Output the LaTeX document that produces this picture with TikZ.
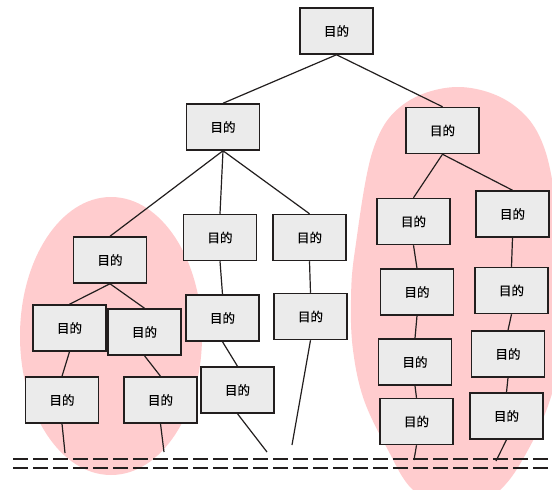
\documentclass[tikz,border=0pt]{standalone}
\usepackage{fontspec}
\newfontfamily\cjkfont[FakeBold=0.6]{Noto Sans CJK SC}
\definecolor{blobpink}{RGB}{255,204,206}
\definecolor{boxgray}{RGB}{235,235,235}
\definecolor{edgeink}{RGB}{34,30,30}
\tikzset{
  goalbox/.style={draw=edgeink, line width=1.5pt, fill=boxgray,
    minimum width=73pt, minimum height=46pt, inner sep=0pt,
    font=\cjkfont\fontsize{12.5}{13}\selectfont},
  link/.style={draw=edgeink, line width=1.2pt},
  floor/.style={draw=edgeink, line width=2.1pt, dash pattern=on 15pt off 5pt}
}
\begin{document}
\begin{tikzpicture}[x=1pt, y=-1pt]
\useasboundingbox (0,0) rectangle (552,490);
\clip (0,0) rectangle (552,490);
\fill[white] (0,0) rectangle (552,490);

% shaded groups
\fill[blobpink] (111,336) ellipse [x radius=91, y radius=139];
\fill[blobpink] plot[smooth cycle, tension=0.6] coordinates {
  (458,87) (512,104) (545,150) (562,250) (565,300) (561,350)
  (550,400) (528,450) (500,490) (457,515) (413,490) (388,450)
  (364,400) (353,350) (351,300) (355,250) (373,150) (404,104)};

% goal boxes
\node[goalbox] (top) at (336.5,31) {目的};
\node[goalbox] (a) at (223,127) {目的};
\node[goalbox] (b) at (442.5,130.5) {目的};

\node[goalbox] (l1) at (110,260) {目的};
\node[goalbox] (m1) at (220,237.5) {目的};
\node[goalbox] (m2) at (309.5,237.5) {目的};

\node[goalbox] (ll) at (69.5,328) {目的};
\node[goalbox] (lr) at (144.5,332) {目的};
\node[goalbox] (llc) at (62,400) {目的};
\node[goalbox] (lrc) at (160.5,400) {目的};

\node[goalbox] (m1b) at (222.5,318) {目的};
\node[goalbox] (m1c) at (237.5,390) {目的};
\node[goalbox] (m2b) at (310.5,316.5) {目的};

\node[goalbox] (r1) at (413.5,221.5) {目的};
\node[goalbox] (r1b) at (417,292) {目的};
\node[goalbox] (r1c) at (415,362) {目的};
\node[goalbox] (r1d) at (416.5,421.5) {目的};

\node[goalbox] (r2) at (512.5,214) {目的};
\node[goalbox] (r2b) at (511.5,290.5) {目的};
\node[goalbox] (r2c) at (508,354) {目的};
\node[goalbox] (r2d) at (506.5,416) {目的};

% loose ends reaching the floor
\coordinate (e1) at (65,453);
\coordinate (e2) at (164,452);
\coordinate (e3) at (267,452);
\coordinate (e4) at (292,445);
\coordinate (e5) at (414,460);
\coordinate (e6) at (496,461);

% tree links
\draw[link] (top.south) -- (a.north);
\draw[link] (top.south) -- (b.north);
\draw[link] (a.south) -- (l1.north);
\draw[link] (a.south) -- (m1.north);
\draw[link] (a.south) -- (m2.north);
\draw[link] (l1.south) -- (ll.north);
\draw[link] (l1.south) -- (lr.north);
\draw[link] (ll.south) -- (llc.north);
\draw[link] (lr.south) -- (lrc.north);
\draw[link] (llc.south) -- (e1);
\draw[link] (lrc.south) -- (e2);
\draw[link] (m1.south) -- (m1b.north);
\draw[link] (m1b.south) -- (m1c.north);
\draw[link] (m1c.south) -- (e3);
\draw[link] (m2.south) -- (m2b.north);
\draw[link] (m2b.south) -- (e4);
\draw[link] (b.south) -- (r1.north);
\draw[link] (b.south) -- (r2.north);
\draw[link] (r1.south) -- (r1b.north);
\draw[link] (r1b.south) -- (r1c.north);
\draw[link] (r1c.south) -- (r1d.north);
\draw[link] (r1d.south) -- (e5);
\draw[link] (r2.south) -- (r2b.north);
\draw[link] (r2b.south) -- (r2c.north);
\draw[link] (r2c.south) -- (r2d.north);
\draw[link] (r2d.south) -- (e6);

% double dashed floor line
\coordinate (f1l) at (13,459);
\coordinate (f1r) at (552,459);
\coordinate (f2l) at (13,468);
\coordinate (f2r) at (552,468);
\draw[floor] (f1l) -- (f1r);
\draw[floor] (f2l) -- (f2r);
\end{tikzpicture}
\end{document}
